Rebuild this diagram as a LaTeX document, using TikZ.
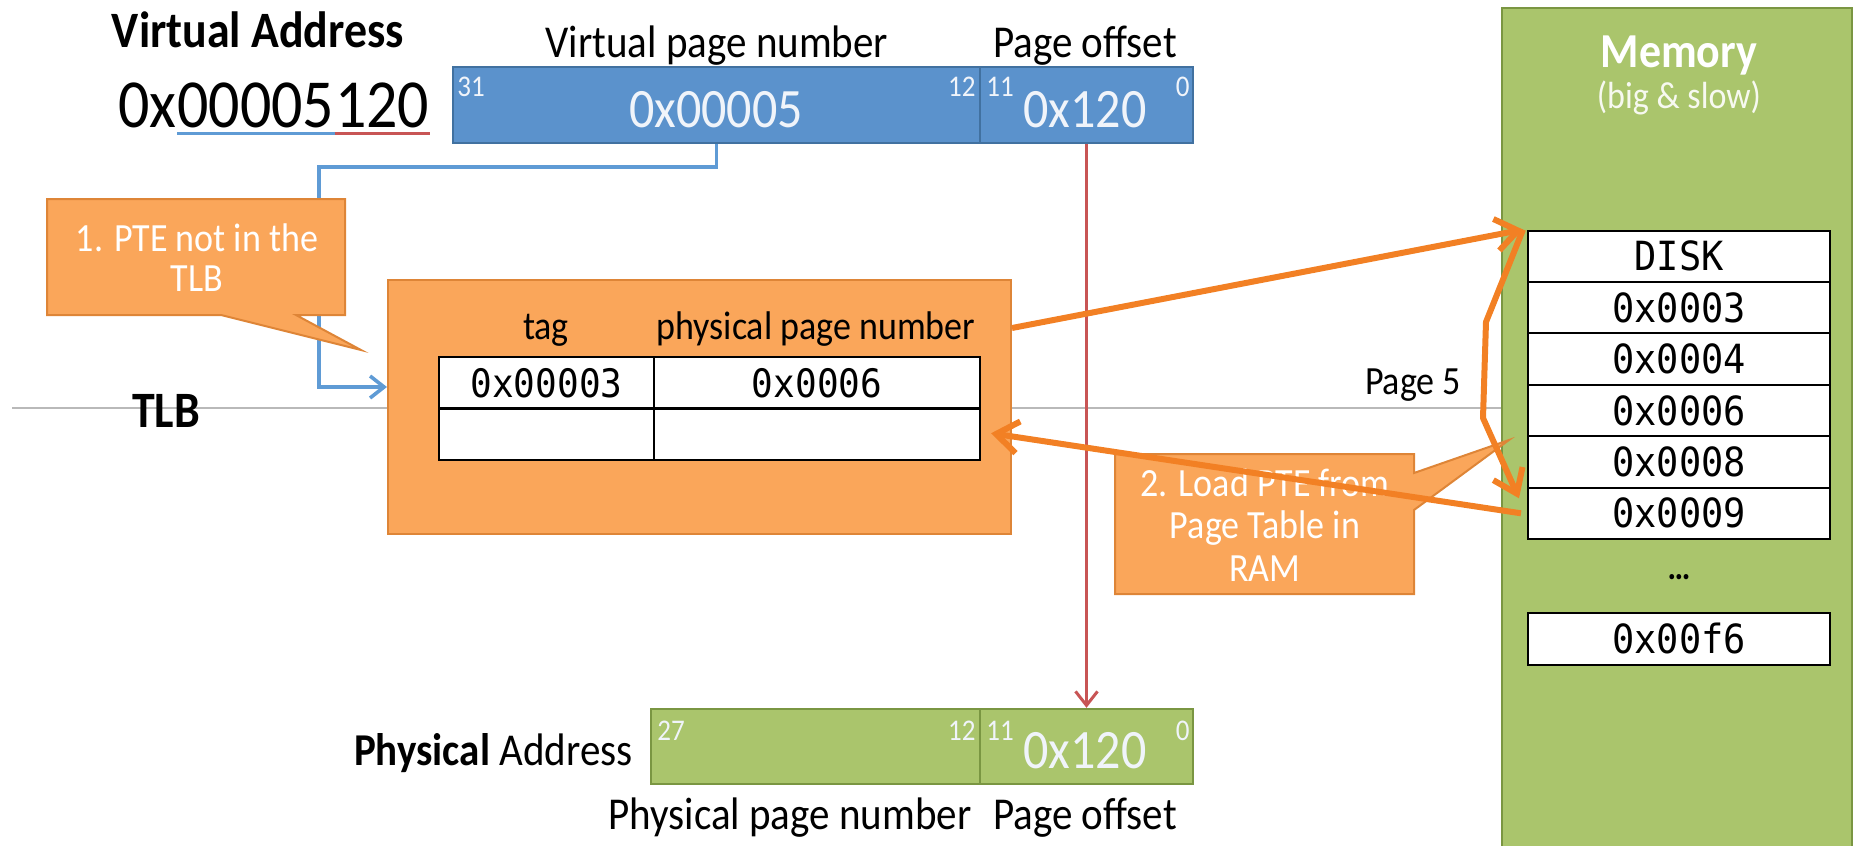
\documentclass[tikz,border=0pt]{standalone}
\usepackage{fontspec}
\setmainfont{Carlito}[FakeStretch=0.9]
\newfontfamily\monofont{DejaVu Sans Mono}[FakeStretch=0.92]
\usetikzlibrary{arrows.meta}

\definecolor{vblue}{RGB}{91,146,204}
\definecolor{vblueedge}{RGB}{65,113,160}
\definecolor{linkblue}{RGB}{95,155,213}
\definecolor{pgreen}{RGB}{170,197,108}
\definecolor{pgreenedge}{RGB}{122,150,66}
\definecolor{tlborange}{RGB}{250,166,90}
\definecolor{tlbedge}{RGB}{222,133,55}
\definecolor{flow}{RGB}{242,128,36}
\definecolor{offred}{RGB}{200,85,85}
\definecolor{boxtext}{RGB}{240,244,250}

\begin{document}
\begin{tikzpicture}[x=0.5pt,y=-0.5pt,
  every node/.style={inner sep=0pt},
  vfield/.style={draw=vblueedge, line width=1.2pt, fill=vblue},
  pfield/.style={draw=pgreenedge, line width=1.2pt, fill=pgreen},
  bitno/.style={text=boxtext, font=\fontsize{15}{15}\selectfont},
  fieldval/.style={text=boxtext, anchor=base, font=\fontsize{27.8}{27.8}\selectfont},
  caption/.style={anchor=base, font=\fontsize{22.8}{26}\selectfont},
  bighex/.style={anchor=base west, font=\fontsize{34.4}{34.4}\selectfont},
  heading/.style={anchor=base, font=\bfseries\fontsize{25.5}{25.5}\selectfont},
  tlbhead/.style={anchor=base, font=\fontsize{20}{20}\selectfont},
  tlbcell/.style={draw=black, line width=1.1pt, fill=white, minimum height=25.7pt,
    font=\monofont\fontsize{19.6}{19.6}\selectfont},
  memcell/.style={draw=black, line width=1pt, fill=white, minimum width=151pt,
    minimum height=25.7pt, font=\monofont\fontsize{20.1}{20.1}\selectfont},
  calloutbox/.style={draw=tlbedge, line width=1pt, fill=tlborange, line join=miter},
  callouttext/.style={text=white, anchor=base, font=\fontsize{20}{20}\selectfont},
  flowarrow/.style={draw=flow, line width=3pt, line join=round,
    -{Straight Barb[length=11pt,width=16pt]}},
  thinarrow/.style={-{Straight Barb[length=7pt,width=11pt]}},
]
\useasboundingbox (0,0) rectangle (1854,846);

% divider between the address level and the TLB level
\coordinate (ruleL) at (12,408);
\coordinate (ruleR) at (1502,408);
\draw[gray!55, line width=1pt] (ruleL) -- (ruleR);

% main memory column
\begin{scope}
  \clip (0,0) rectangle (1854,846);
  \node[draw=pgreenedge, line width=1.2pt, fill=pgreen,
        minimum width=175pt, minimum height=460pt] (mem) at (1677,468) {};
\end{scope}
\node[text=white, anchor=base, font=\bfseries\fontsize{24.4}{24.4}\selectfont] (memtitle) at (1679,67) {Memory};
\node[text=white!90!pgreen, anchor=base, font=\fontsize{18.9}{18.9}\selectfont] (memsub) at (1679,108) {(big \& slow)};
\node[memcell] (m0) at (1679,256.3) {DISK};
\node[memcell] (m1) at (1679,307.7) {0x0003};
\node[memcell] (m2) at (1679,359.1) {0x0004};
\node[memcell] (m3) at (1679,410.5) {0x0006};
\node[memcell] (m4) at (1679,461.9) {0x0008};
\node[memcell] (m5) at (1679,513.3) {0x0009};
\node[font=\bfseries\fontsize{17.8}{17.8}\selectfont] (mdots) at (1679,577) {…};
\node[memcell] (mlast) at (1679,639) {0x00f6};

% virtual address
\node[heading] (vtitle) at (258,47) {Virtual Address};
\node[bighex] (vx) at (118,127) {0x};
\node[bighex] (vhi) at (vx.base east) {00005};
\node[bighex] (vlo) at (vhi.base east) {120};
\draw[linkblue, line width=1.5pt] ([yshift=-3pt]vhi.base west) -- ([yshift=-3pt]vhi.base east);
\draw[offred, line width=1.5pt] ([yshift=-3pt]vlo.base west) -- ([yshift=-3pt]vlo.base east);

\node[vfield, minimum width=263.5pt, minimum height=38pt] (vpn) at (716.5,105) {};
\node[vfield, minimum width=106.5pt, minimum height=38pt] (voff) at (1086.5,105) {};
\node[bitno, anchor=base west] (b31) at (457,96) {31};
\node[bitno, anchor=base east] (b12v) at (976,96) {12};
\node[bitno, anchor=base west] (b11v) at (986,96) {11};
\node[bitno, anchor=base east] (b0v) at (1190,96) {0};
\node[fieldval] (vpnval) at (716,127) {0x00005};
\node[fieldval] (voffval) at (1085,127) {0x120};
\node[caption] (vpncap) at (717,57) {Virtual page number};
\node[caption] (voffcap) at (1085,57) {Page offset};

% TLB
\node[heading] (tlblabel) at (166,427) {TLB};
\node[draw=tlbedge, line width=1pt, fill=tlborange,
      minimum width=311.5pt, minimum height=127pt] (tlb) at (699.5,407) {};

% virtual page number goes to the TLB
\coordinate (vbend) at (319,387);
\draw[linkblue, line width=1.8pt, line join=miter, thinarrow]
  (vpn.south) |- (319,167) -- (vbend) -- (vbend -| tlb.west);

% step 1 callout
\draw[calloutbox] (47,199) -- (345,199) -- (345,315) -- (296,315) -- (361,350)
  -- (221,315) -- (47,315) -- cycle;
\node[callouttext] (c1a) at (197,251) {1. PTE not in the};
\node[callouttext] (c1b) at (197,291) {TLB};

\node[tlbhead] (tagh) at (546,339) {tag};
\node[tlbhead] (ppnh) at (816,339) {physical page number};
\node[tlbcell, minimum width=107.5pt] (t11) at (546.5,382.75) {0x00003};
\node[tlbcell, minimum width=163pt] (t12) at (817,382.75) {0x0006};
\node[tlbcell, minimum width=107.5pt] (t21) at (546.5,434.25) {};
\node[tlbcell, minimum width=163pt] (t22) at (817,434.25) {};

% physical address
\node[pfield, minimum width=164.5pt, minimum height=37.5pt] (ppn) at (815.5,746.5) {};
\node[pfield, minimum width=106.5pt, minimum height=37.5pt] (poff) at (1086.5,746.5) {};
\node[bitno, anchor=base west] (b27) at (657,740) {27};
\node[bitno, anchor=base east] (b12p) at (976,740) {12};
\node[bitno, anchor=base west] (b11p) at (986,740) {11};
\node[bitno, anchor=base east] (b0p) at (1190,740) {0};
\node[fieldval] (poffval) at (1085,768) {0x120};
\node[caption, anchor=base east] (ptitle) at (633,765) {\textbf{Physical} Address};
\node[caption] (ppncap) at (790,829) {Physical page number};
\node[caption] (poffcap) at (1085,829) {Page offset};

% page offset copied straight through
\draw[offred, line width=1.5pt, thinarrow] (voff.south) -- (poff.north);

% step 2 callout
\draw[calloutbox] (1115,454) -- (1414,454) -- (1414,473) -- (1509,440) -- (1414,510)
  -- (1414,594) -- (1115,594) -- cycle;
\node[callouttext] (c2a) at (1265,496) {2. Load PTE from};
\node[callouttext] (c2b) at (1265,538) {Page Table in};
\node[callouttext] (c2c) at (1265,581) {RAM};

\node[tlbhead] (page5) at (1413,394) {Page 5};

% page table walk in memory
\coordinate (bendA) at (1486,322);
\coordinate (bendB) at (1483,418);
\draw[flowarrow] ([yshift=39.5pt]tlb.east) -- ([xshift=-2pt]m0.north west);
\draw[flowarrow] ([xshift=-2pt]m0.north west) -- (bendA) -- (bendB)
  -- ([xshift=-4pt,yshift=7.5pt]m5.west);
\draw[flowarrow] ([xshift=-3pt]m5.west) -- ([xshift=5pt,yshift=0.5pt]t22.east);
\end{tikzpicture}
\end{document}
